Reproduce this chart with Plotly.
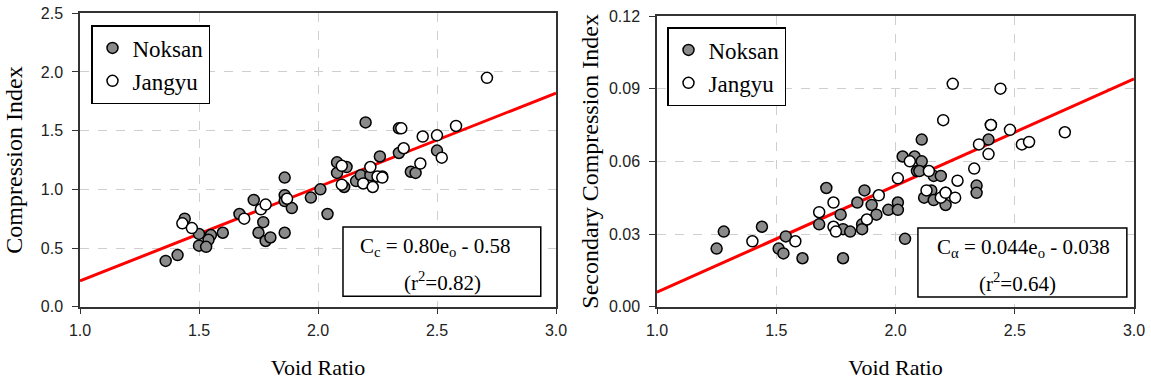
import plotly.graph_objects as go

# ---------------- data ----------------
# Left panel: Compression index vs void ratio
cc_noksan_e = [1.36, 1.41, 1.44, 1.50, 1.55, 1.54, 1.50, 1.53, 1.60, 1.67, 1.73, 1.77, 1.75, 1.78,
               1.80, 1.86, 1.86, 1.86, 1.86, 1.89, 1.97, 2.01, 2.04, 2.08, 2.08, 2.12, 2.11, 2.16,
               2.18, 2.22, 2.20, 2.26, 2.27, 2.34, 2.34, 2.39, 2.41, 2.50]
cc_noksan_v = [0.39, 0.44, 0.75, 0.62, 0.61, 0.57, 0.52, 0.51, 0.63, 0.79, 0.91, 0.72, 0.63, 0.56,
               0.59, 0.63, 1.10, 0.95, 0.90, 0.84, 0.93, 1.00, 0.79, 1.23, 1.14, 1.19, 1.02, 1.07,
               1.12, 1.12, 1.57, 1.28, 1.11, 1.52, 1.31, 1.15, 1.14, 1.33]
cc_jangyu_e = [1.43, 1.47, 1.69, 1.76, 1.78, 1.87, 2.10, 2.10, 2.19, 2.22, 2.23, 2.25, 2.27, 2.35,
               2.36, 2.44, 2.50, 2.43, 2.52, 2.58, 2.71]
cc_jangyu_v = [0.71, 0.67, 0.75, 0.83, 0.87, 0.92, 1.20, 1.04, 1.05, 1.19, 1.02, 1.11, 1.10, 1.52,
               1.35, 1.45, 1.46, 1.22, 1.27, 1.54, 1.95]
cc_slope, cc_intercept = 0.80, -0.58

# Right panel: Secondary compression index vs void ratio
ca_noksan_e = [1.25, 1.28, 1.44, 1.51, 1.53, 1.54, 1.61, 1.68, 1.71, 1.77, 1.78, 1.78, 1.81, 1.84,
               1.87, 1.86, 1.86, 1.90, 1.92, 1.97, 2.01, 2.01, 2.04, 2.03, 2.08, 2.11, 2.11, 2.09,
               2.10, 2.16, 2.19, 2.12, 2.15, 2.16, 2.21, 2.21, 2.34, 2.34, 2.39, 2.40]
ca_noksan_v = [0.024, 0.031, 0.033, 0.024, 0.022, 0.029, 0.020, 0.034, 0.049, 0.038, 0.032, 0.020,
               0.031, 0.043, 0.048, 0.034, 0.032, 0.042, 0.038, 0.040, 0.043, 0.040, 0.028, 0.062,
               0.062, 0.069, 0.060, 0.056, 0.056, 0.054, 0.054, 0.045, 0.048, 0.044, 0.047, 0.042,
               0.050, 0.047, 0.069, 0.075]
ca_jangyu_e = [1.40, 1.58, 1.68, 1.74, 1.74, 1.75, 1.88, 1.93, 2.01, 2.06, 2.14, 2.13, 2.19, 2.21,
               2.25, 2.26, 2.20, 2.24, 2.44, 2.33, 2.35, 2.39, 2.40, 2.48, 2.53, 2.56, 2.71]
ca_jangyu_v = [0.027, 0.027, 0.039, 0.043, 0.033, 0.031, 0.036, 0.046, 0.053, 0.060, 0.056, 0.048,
               0.045, 0.047, 0.045, 0.052, 0.077, 0.092, 0.090, 0.057, 0.067, 0.063, 0.075, 0.073,
               0.067, 0.068, 0.072]
ca_slope, ca_intercept = 0.044, -0.038

fit_x = [1.0, 3.0]
x_ticks = [1.0, 1.5, 2.0, 2.5, 3.0]
cc_ticks = [0.0, 0.5, 1.0, 1.5, 2.0, 2.5]
ca_ticks = [0.00, 0.03, 0.06, 0.09, 0.12]

SERIF = "Liberation Serif"
SANS = "Liberation Sans"
GREY = "#8a8a8a"

fig = go.Figure()

def add_panel(xa, ya, legend, ne, nv, je, jv, slope, intercept):
    fig.add_trace(go.Scatter(x=fit_x, y=[slope * v + intercept for v in fit_x], mode="lines",
                             line=dict(color="#ff0000", width=3), showlegend=False,
                             xaxis=xa, yaxis=ya, hoverinfo="skip"))
    fig.add_trace(go.Scatter(x=ne, y=nv, mode="markers", name="Noksan", legend=legend,
                             marker=dict(size=11, color=GREY, line=dict(color="black", width=1.5)),
                             xaxis=xa, yaxis=ya))
    fig.add_trace(go.Scatter(x=je, y=jv, mode="markers", name="Jangyu", legend=legend,
                             marker=dict(size=11, color="white", line=dict(color="black", width=1.5)),
                             xaxis=xa, yaxis=ya))

add_panel("x", "y", "legend", cc_noksan_e, cc_noksan_v, cc_jangyu_e, cc_jangyu_v, cc_slope, cc_intercept)
add_panel("x2", "y2", "legend2", ca_noksan_e, ca_noksan_v, ca_jangyu_e, ca_jangyu_v, ca_slope, ca_intercept)

W, H = 1151, 381
common_x = dict(range=[1.0, 3.0], tickvals=x_ticks, ticktext=[f"{v:.1f}" for v in x_ticks],
                showline=True, mirror=True, linecolor="#333", linewidth=1.5,
                ticks="outside", ticklen=6, tickcolor="#333", ticklabelstandoff=2,
                showgrid=True, gridcolor="#cfcfcf", griddash="dash", gridwidth=1,
                zeroline=False, tickfont=dict(family=SANS, size=16, color="#222"),
                title=dict(text="Void Ratio", font=dict(family=SERIF, size=22, color="black"), standoff=22),
                automargin=False)
common_y = dict(showline=True, mirror=True, linecolor="#333", linewidth=1.5,
                ticks="outside", ticklen=6, tickcolor="#333", ticklabelstandoff=6,
                showgrid=True, gridcolor="#cfcfcf", griddash="dash", gridwidth=1,
                zeroline=False, tickfont=dict(family=SANS, size=16, color="#222"),
                automargin=False)

fig.update_layout(
    width=W, height=H, margin=dict(l=0, r=0, t=0, b=0),
    paper_bgcolor="white", plot_bgcolor="white",
    xaxis=dict(domain=[80 / W, 556 / W], anchor="y", **common_x),
    yaxis=dict(domain=[1 - 306.7 / H, 1 - 13.3 / H], anchor="x", range=[0, 2.5],
               tickvals=cc_ticks, ticktext=[f"{v:.1f}" for v in cc_ticks],
               title=dict(text="Compression Index", font=dict(family=SERIF, size=24, color="black"), standoff=11),
               **common_y),
    xaxis2=dict(domain=[657 / W, 1134 / W], anchor="y2", **common_x),
    yaxis2=dict(domain=[1 - 306.7 / H, 1 - 16 / H], anchor="x2", range=[0, 0.12],
                tickvals=ca_ticks, ticktext=[f"{v:.2f}" for v in ca_ticks],
                title=dict(text="Secondary Compression Index", font=dict(family=SERIF, size=24, color="black"), standoff=4),
                **common_y),
    legend=dict(x=91 / W, y=1 - 25 / H, xanchor="left", yanchor="top",
                bordercolor="black", borderwidth=1.5, bgcolor="white",
                font=dict(family=SERIF, size=23, color="black")),
    legend2=dict(x=667 / W, y=1 - 27 / H, xanchor="left", yanchor="top",
                 bordercolor="black", borderwidth=1.5, bgcolor="white",
                 font=dict(family=SERIF, size=23, color="black")),
    showlegend=True,
)

# equation boxes
fig.add_shape(type="rect", xref="x domain", yref="y domain", x0=0.5525, x1=0.968, y0=0.036, y1=0.272,
              line=dict(color="black", width=1.5), fillcolor="white", layer="above")
fig.add_shape(type="rect", xref="x2 domain", yref="y2 domain", x0=0.547, x1=0.985, y0=0.033, y1=0.271,
              line=dict(color="black", width=1.5), fillcolor="white", layer="above")

eq_font = dict(family=SERIF, size=21, color="black")
def eq(x_px, y_px, text):
    fig.add_annotation(xref="paper", yref="paper", x=x_px / W, y=1 - y_px / H, showarrow=False,
                       xanchor="center", yanchor="middle", text=text, font=eq_font)

eq(435, 247, "C<sub>c</sub> = 0.80e<sub>o</sub> - 0.58")
eq(442, 281, "(r<sup>2</sup>=0.82)")
eq(1024, 248, "C<sub>α</sub> = 0.044e<sub>o</sub> - 0.038")
eq(1017, 282, "(r<sup>2</sup>=0.64)")

fig.write_html("out.html", config={"displayModeBar": False},
               post_script="document.body.style.margin='0px';")
